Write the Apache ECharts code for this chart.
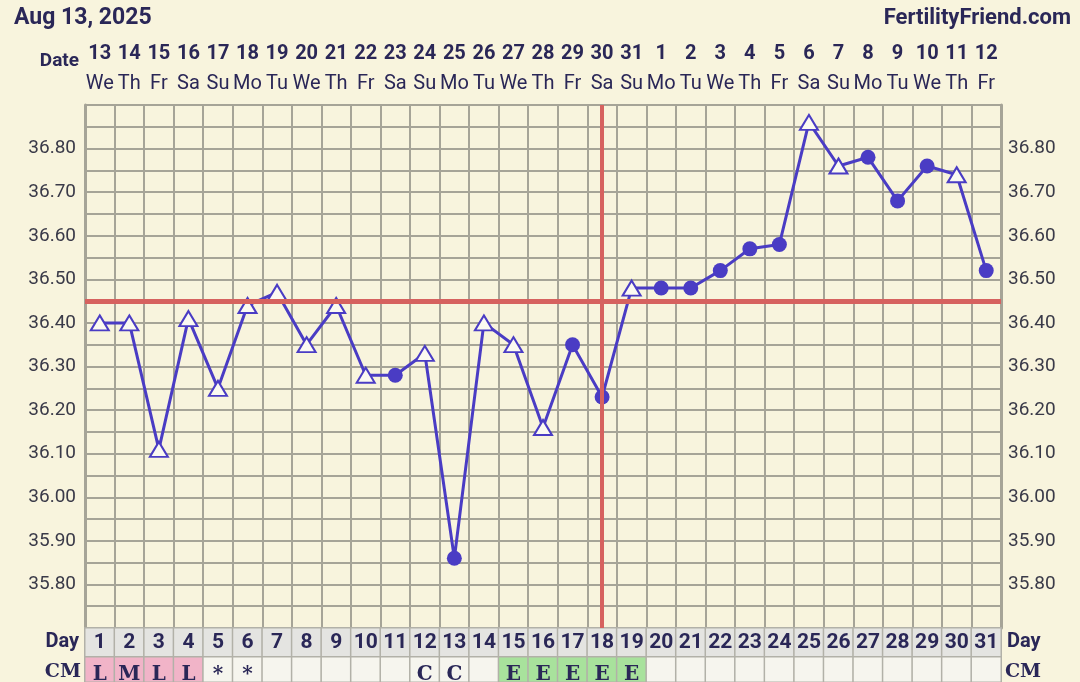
<!DOCTYPE html>
<html><head><meta charset="utf-8">
<script src="https://cdn.jsdelivr.net/npm/echarts@6/dist/echarts.min.js"></script>
<style>html,body{margin:0;padding:0;background:#f8f4dd;} #c{width:1080px;height:682px;}</style>
</head><body><div id="c"></div>
<script>
const dates = ['13','14','15','16','17','18','19','20','21','22','23','24','25','26','27','28','29','30','31','1','2','3','4','5','6','7','8','9','10','11','12'];
const weekdays = ['We','Th','Fr','Sa','Su','Mo','Tu','We','Th','Fr','Sa','Su','Mo','Tu','We','Th','Fr','Sa','Su','Mo','Tu','We','Th','Fr','Sa','Su','Mo','Tu','We','Th','Fr'];
const cycleDays = ['1','2','3','4','5','6','7','8','9','10','11','12','13','14','15','16','17','18','19','20','21','22','23','24','25','26','27','28','29','30','31'];
const temps = [36.40,36.40,36.11,36.41,36.25,36.44,36.47,36.35,36.44,36.28,36.28,36.33,35.86,36.40,36.35,36.16,36.35,36.23,36.48,36.48,36.48,36.52,36.57,36.58,36.86,36.76,36.78,36.68,36.76,36.74,36.52];
const markers = ['open','open','open','open','open','open','open','open','open','open','fill','open','fill','open','open','open','fill','fill','open','fill','fill','fill','fill','fill','open','open','fill','fill','fill','open','fill'];
const cmLabels = ['L','M','L','L','*','*','','','','','','C','C','','E','E','E','E','E','','','','','','','','','','','',''];
const coverline = 36.45;
const ovulationDay = '18';
const yMin = 35.70, yMax = 36.90, yStep = 0.05;

const NAVY = '#2a2757';
const LINE = '#4a3cc4';
const GRIDC = '#a6a497';
const cmColor = s => (s === 'L' || s === 'M') ? '#f1b4c8' : (s === 'E' ? '#a8e29c' : '#f6f5ee');

const chart = echarts.init(document.getElementById('c'), null, {renderer: 'canvas'});
const yLabel = v => {
  const k = Math.round(v * 100);
  if (k % 10 !== 0 || k === Math.round(yMin * 100) || k === Math.round(yMax * 100)) return '';
  return v.toFixed(2);
};
const G = {left: 85, right: 79};
chart.setOption({
  backgroundColor: '#f8f4dd',
  animation: false,
  grid: [
    {left: G.left, right: G.right, top: 105, height: 523},
    {left: G.left, right: G.right, top: 628, height: 29},
    {left: G.left, right: G.right, top: 657, height: 29}
  ],
  xAxis: [
    {gridIndex: 0, type: 'category', data: cycleDays, position: 'top', boundaryGap: true,
     axisLine: {show: false}, axisTick: {show: false},
     splitLine: {show: true, interval: 0, lineStyle: {color: GRIDC, width: 2}},
     axisLabel: {interval: 0, margin: 6,
       formatter: (v, i) => '{d|' + dates[i] + '}\n{w|' + weekdays[i] + '}',
       rich: {
         d: {fontFamily: 'Roboto', fontWeight: 'bold', fontSize: 20, color: NAVY, lineHeight: 30},
         w: {fontFamily: 'Roboto', fontSize: 20, color: NAVY, lineHeight: 30}
       }}},
    {gridIndex: 1, type: 'category', data: cycleDays, show: false},
    {gridIndex: 2, type: 'category', data: cycleDays, show: false}
  ],
  yAxis: [
    {gridIndex: 0, type: 'value', min: yMin, max: yMax, interval: yStep, position: 'left',
     axisLine: {show: true, lineStyle: {color: GRIDC, width: 3}}, axisTick: {show: false},
     splitLine: {show: true, lineStyle: {color: GRIDC, width: 2}},
     axisLabel: {formatter: yLabel, margin: 9, fontFamily: 'Roboto', fontSize: 19, color: '#3a3a48'}},
    {gridIndex: 0, type: 'value', min: yMin, max: yMax, interval: yStep, position: 'right',
     axisLine: {show: true, lineStyle: {color: GRIDC, width: 3}}, axisTick: {show: false},
     splitLine: {show: false},
     axisLabel: {formatter: yLabel, margin: 7, fontFamily: 'Roboto', fontSize: 19, color: '#3a3a48'}},
    {gridIndex: 1, type: 'category', data: ['Day'], show: false},
    {gridIndex: 2, type: 'category', data: ['CM'], show: false}
  ],
  series: [
    {type: 'line', xAxisIndex: 0, yAxisIndex: 0, z: 3,
     lineStyle: {color: LINE, width: 3},
     data: temps.map((t, i) => markers[i] === 'open'
       ? {value: t, symbol: 'triangle', symbolSize: [18, 15], itemStyle: {color: '#fbfaf1', borderColor: LINE, borderWidth: 2}}
       : {value: t, symbol: 'circle', symbolSize: 15, itemStyle: {color: LINE, borderColor: LINE, borderWidth: 0}}),
     markLine: {silent: true, symbol: 'none', label: {show: false}, z: 5,
       data: [
         {yAxis: coverline, lineStyle: {color: '#d6625f', width: 5, type: 'solid'}},
         {xAxis: ovulationDay, lineStyle: {color: '#d6625f', width: 4, type: 'solid'}}
       ]}},
    {type: 'heatmap', xAxisIndex: 1, yAxisIndex: 2,
     data: cycleDays.map((d, i) => ({value: [i, 0, 1], itemStyle: {color: '#e4e4e1', borderColor: '#b2b1a8', borderWidth: 1.5}})),
     label: {show: true, formatter: p => cycleDays[p.dataIndex], fontFamily: 'Roboto', fontWeight: 'bold', fontSize: 21, color: NAVY},
     emphasis: {disabled: true}},
    {type: 'heatmap', xAxisIndex: 2, yAxisIndex: 3,
     data: cmLabels.map((s, i) => ({value: [i, 0, 1], itemStyle: {color: cmColor(s), borderColor: '#b2b1a8', borderWidth: 1.5}})),
     label: {show: true, formatter: p => cmLabels[p.dataIndex], fontFamily: 'DejaVu Serif', fontWeight: 'bold', fontSize: 20, color: NAVY, offset: [0, 5]},
     emphasis: {disabled: true}}
  ],
  graphic: [
    {type: 'text', left: 14, top: 7, style: {text: 'Aug 13, 2025', font: 'bold 23px Roboto', fill: NAVY}},
    {type: 'text', right: 9, top: 7, style: {text: 'FertilityFriend.com', font: 'bold 22px Roboto', fill: NAVY}},
    {type: 'text', x: 79, y: 61, style: {text: 'Date', font: 'bold 19px Roboto', fill: NAVY, align: 'right', verticalAlign: 'middle'}},
    {type: 'text', x: 79, y: 642, style: {text: 'Day', font: 'bold 20px Roboto', fill: NAVY, align: 'right', verticalAlign: 'middle'}},
    {type: 'text', x: 81, y: 672, style: {text: 'CM', font: 'bold 19px "DejaVu Serif"', fill: NAVY, align: 'right', verticalAlign: 'middle'}},
    {type: 'text', x: 1007, y: 642, style: {text: 'Day', font: 'bold 20px Roboto', fill: NAVY, align: 'left', verticalAlign: 'middle'}},
    {type: 'text', x: 1005, y: 672, style: {text: 'CM', font: 'bold 19px "DejaVu Serif"', fill: NAVY, align: 'left', verticalAlign: 'middle'}}
  ]
});
</script></body></html>
